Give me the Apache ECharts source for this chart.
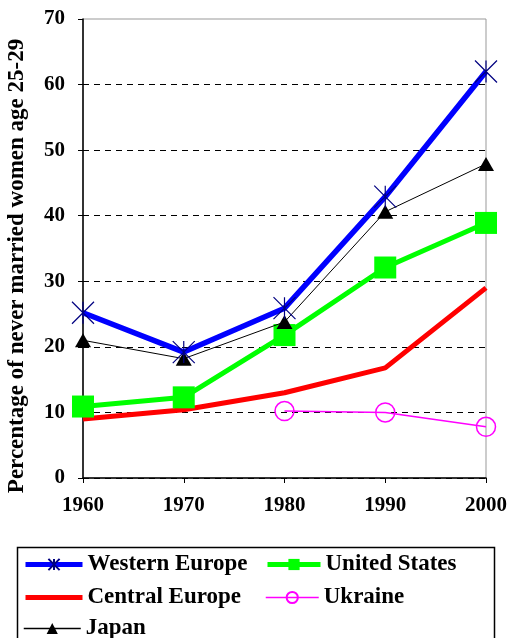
<!DOCTYPE html>
<html><head><meta charset="utf-8">
<script src="https://cdn.jsdelivr.net/npm/echarts@6/dist/echarts.min.js"></script>
<style>html,body{margin:0;padding:0;background:#fff}#c{width:507px;height:638px}</style>
</head><body><div id="c"></div>
<script>
const years = ['1960','1970','1980','1990','2000'];
const westernEurope = [25.2, 19.2, 25.9, 42.9, 62.0];
const unitedStates = [10.9, 12.3, 21.8, 32.1, 38.9];
const centralEurope = [9.0, 10.4, 13.0, 16.8, 29.0];
const ukraine = [null, null, 10.2, 10.0, 7.8];
const japan = [21.0, 18.2, 23.8, 40.6, 47.9];
const yTicks = [0,10,20,30,40,50,60,70];
const yTitle = 'Percentage of never married women age 25-29';

const font = 'Liberation Serif';
const chart = echarts.init(document.getElementById('c'));
const asterisk = 'path://M0,0L10,10M10,0L0,10M5,0L5,10';
const legTxt = {fontFamily: font, fontWeight: 'bold', fontSize: 23, color: '#000'};
function leg(name, left, cy, w, lw, extra) {
  return Object.assign({
    left: left, top: cy - 10, padding: 0, itemWidth: w, itemHeight: 14, itemGap: 6,
    data: [name], textStyle: legTxt, lineStyle: {width: lw}
  }, extra || {});
}
chart.setOption({
  animation: false,
  grid: {left: 83, right: 21, top: 19, bottom: 160, show: true, borderColor: '#999', borderWidth: 1,
    outerBoundsMode: 'none', containLabel: false},
  xAxis: {
    type: 'category', data: years, boundaryGap: false,
    axisLine: {lineStyle: {color: '#000', width: 1.5}},
    axisTick: {length: 5, lineStyle: {color: '#000'}},
    axisLabel: {fontFamily: font, fontWeight: 'bold', fontSize: 21, color: '#000', margin: 17}
  },
  yAxis: {
    type: 'value', min: 0, max: 70, interval: 10,
    axisLine: {show: true, lineStyle: {color: '#000', width: 1.5}},
    axisTick: {show: true, length: 5, lineStyle: {color: '#000'}},
    axisLabel: {fontFamily: font, fontWeight: 'bold', fontSize: 21, color: '#000', margin: 18,
      formatter: v => yTicks.includes(v) ? String(v) : ''},
    splitLine: {show: true, lineStyle: {type: [6,5], width: 1.2,
      color: ['#000','#000','#000','#000','#000','#000','#000','rgba(0,0,0,0)']}}
  },
  legend: [
    leg('Western Europe', 23, 563, 57, 5),
    leg('Central Europe', 23, 596, 57, 5, {itemStyle: {color: 'rgba(0,0,0,0)', borderWidth: 0}}),
    leg('Japan', 23, 627, 57, 1.5),
    leg('United States', 265, 563, 53, 5),
    leg('Ukraine', 265, 596, 53, 1.5)
  ],
  graphic: [
    {type: 'rect', shape: {x: 17.5, y: 547.5, width: 477, height: 100},
      style: {fill: 'none', stroke: '#000', lineWidth: 1.5}},
    {type: 'text', x: 17, y: 266, rotation: Math.PI / 2,
      style: {text: yTitle, font: 'bold 23px "Liberation Serif"', fill: '#000',
        align: 'center', verticalAlign: 'middle'}}
  ],
  series: [
    {name: 'Western Europe', type: 'line', data: westernEurope, z: 6,
      lineStyle: {color: '#0000ff', width: 5.5},
      symbol: asterisk, symbolSize: 22,
      itemStyle: {color: '#0000ff', borderColor: '#000080', borderWidth: 1.2}},
    {name: 'United States', type: 'line', data: unitedStates, z: 4,
      lineStyle: {color: '#00ff00', width: 5},
      symbol: 'rect', symbolSize: 22,
      itemStyle: {color: '#00ff00'}},
    {name: 'Central Europe', type: 'line', data: centralEurope, z: 3,
      lineStyle: {color: '#ff0000', width: 5},
      symbol: 'none', itemStyle: {color: '#ff0000'}},
    {name: 'Ukraine', type: 'line', data: ukraine, z: 3,
      lineStyle: {color: '#ff00ff', width: 1.5},
      symbol: 'circle', symbolSize: 19, showSymbol: true,
      itemStyle: {color: 'rgba(255,255,255,0)', borderColor: '#ff00ff', borderWidth: 1.5}},
    {name: 'Japan', type: 'line', data: japan, z: 5,
      lineStyle: {color: '#000', width: 1},
      symbol: 'triangle', symbolSize: [16, 14],
      itemStyle: {color: '#000'}}
  ]
});
</script></body></html>
